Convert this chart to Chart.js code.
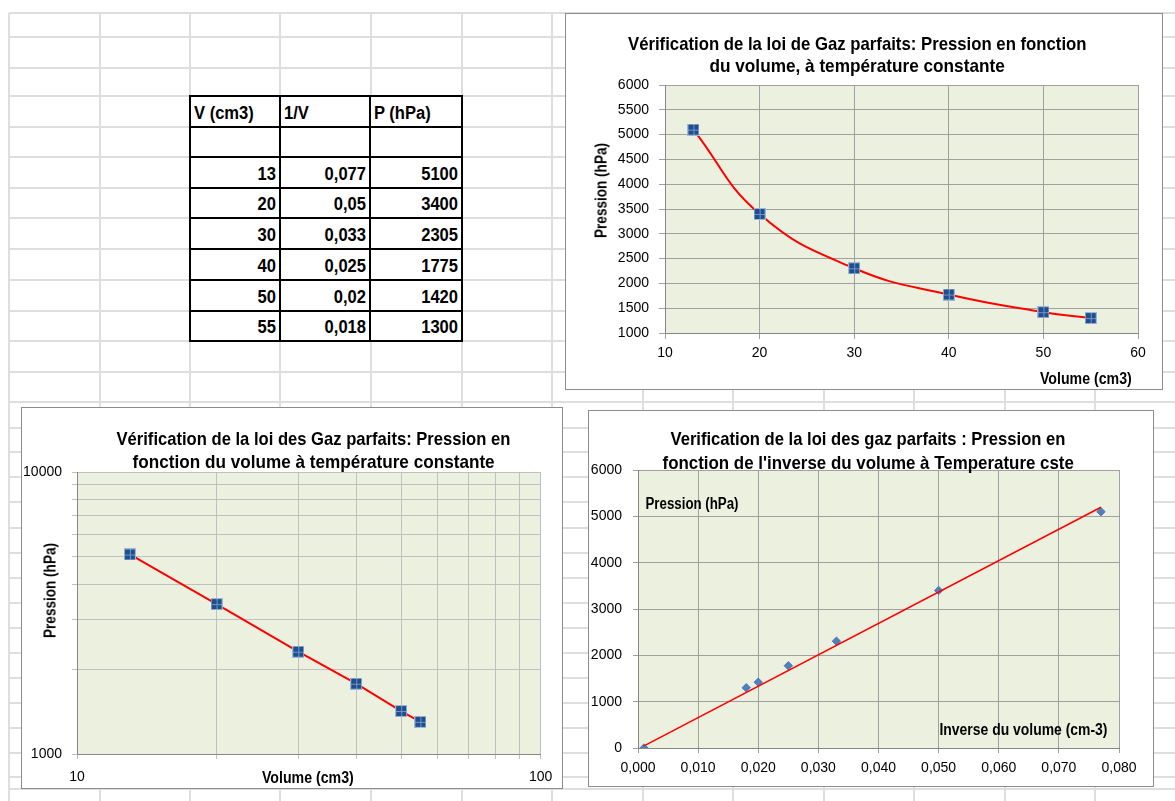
<!DOCTYPE html>
<html><head><meta charset="utf-8">
<script src="https://cdn.jsdelivr.net/npm/chart.js@4.4.1/dist/chart.umd.min.js"></script>
<style>
html,body{margin:0;padding:0;background:#fff;}
body{width:1175px;height:801px;position:relative;overflow:hidden;font-family:"Liberation Sans",Arial,sans-serif;color:#000;}
#sheet{position:absolute;left:0;top:0;width:1175px;height:801px;}
.hl{position:absolute;height:2px;background:#dedede;}
.vl{position:absolute;width:2px;background:#dedede;}
.box{position:absolute;background:#fff;border:1px solid #8c8c8c;box-sizing:border-box;}
.box canvas{position:absolute;left:0;top:0;}
.t{position:absolute;white-space:nowrap;font-weight:bold;transform-origin:50% 50%;z-index:5;}
#tbl{position:absolute;left:189px;top:95px;border-collapse:collapse;background:#fff;font-weight:bold;font-size:18px;}
#tbl td{border:2px solid #000;padding:0 3px 3px 3px;vertical-align:bottom;line-height:19px;white-space:nowrap;}
#tbl td span{display:inline-block;transform:scaleX(0.92);}
#tbl td.l span{transform-origin:0 50%;}
#tbl td.r span{transform-origin:100% 50%;}
</style></head>
<body>
<div id="sheet"></div>
<table id="tbl"></table>
<div class="box" style="left:565px;top:13px;width:598px;height:377px;"><canvas id="c1" width="596" height="375"></canvas></div>
<div class="box" style="left:21px;top:407px;width:542px;height:382px;"><canvas id="c2" width="540" height="380"></canvas></div>
<div class="box" style="left:588px;top:410px;width:566px;height:377px;"><canvas id="c3" width="564" height="375"></canvas></div>
<script>
// ---------- data ----------
const volume = [13, 20, 30, 40, 50, 55];
const inverseVolume = [0.077, 0.05, 0.033, 0.025, 0.02, 0.018];
const pressure = [5100, 3400, 2305, 1775, 1420, 1300];
const tableHeaders = ['V (cm3)', '1/V', 'P (hPa)'];
// third chart: points plotted (includes a point near the origin) and the trend line ends
const inv3X = [0.001, 0.018, 0.02, 0.025, 0.033, 0.05, 0.077];
const inv3Y = [0, 1300, 1420, 1775, 2305, 3400, 5100];
const trendX = [0.001, 0.077];
const trendY = [45, 5195];
// tick values
const lin1XTicks = [10, 20, 30, 40, 50, 60];
const lin1YTicks = [1000, 1500, 2000, 2500, 3000, 3500, 4000, 4500, 5000, 5500, 6000];
const logXTicks = [10, 20, 30, 40, 50, 60, 70, 80, 90, 100];
const logXLabels = [10, 100];
const logYTicks = [1000, 2000, 3000, 4000, 5000, 6000, 7000, 8000, 9000, 10000];
const logYLabels = [1000, 10000];
const inv3XTicks = [0, 0.01, 0.02, 0.03, 0.04, 0.05, 0.06, 0.07, 0.08];
const inv3YTicks = [0, 1000, 2000, 3000, 4000, 5000, 6000];

// ---------- spreadsheet grid ----------
const sheetCols = [9, 100, 190, 280, 371, 462, 552, 643, 733, 824, 914, 1005, 1095];
const sheetRows = [13, 37, 68, 96, 127, 157, 188, 218, 249, 280, 311, 341, 372, 402, 428, 452, 477, 502, 528, 553, 578, 603, 628, 653, 678, 703, 728, 753, 777, 789];
const sheet = document.getElementById('sheet');
sheetCols.forEach(x => { const d = document.createElement('div'); d.className = 'vl'; d.style.left = (x - 1) + 'px'; d.style.top = '13px'; d.style.height = '788px'; sheet.appendChild(d); });
sheetRows.forEach(y => { const d = document.createElement('div'); d.className = 'hl'; d.style.top = (y - 1) + 'px'; d.style.left = '9px'; d.style.width = '1166px'; sheet.appendChild(d); });

// ---------- table ----------
const tbl = document.getElementById('tbl');
const colW = [90, 90, 92];
const rowH = [31, 30, 31, 30, 31, 31, 31, 30];
function addRow(cells, cls, h) {
  const tr = document.createElement('tr'); tr.style.height = h + 'px';
  cells.forEach((c, i) => {
    const td = document.createElement('td'); td.className = cls;
    const sp = document.createElement('span'); sp.textContent = c; td.appendChild(sp);
    td.style.textAlign = cls === 'l' ? 'left' : 'right';
    td.style.width = (colW[i] - 8) + 'px'; td.style.height = (h - 5) + 'px';
    tr.appendChild(td);
  });
  tbl.appendChild(tr);
}
addRow(tableHeaders, 'l', rowH[0]);
addRow(['', '', ''], 'l', rowH[1]);
volume.forEach((v, i) => addRow([String(v), String(inverseVolume[i]).replace('.', ','), String(pressure[i])], 'r', rowH[i + 2]));

// ---------- HTML text (titles / labels) ----------
function addText(text, cx, cy, targetW, size, rotate) {
  const el = document.createElement('div'); el.className = 't'; el.textContent = text;
  el.style.fontSize = size + 'px'; el.style.lineHeight = Math.round(size * 1.2) + 'px';
  document.body.appendChild(el);
  const w = el.offsetWidth, h = el.offsetHeight;
  el.style.left = (cx - w / 2) + 'px'; el.style.top = (cy - h / 2) + 'px';
  el.style.transform = (rotate ? 'rotate(-90deg) ' : '') + 'scaleX(' + (targetW / w) + ')';
}
// chart titles
addText('Vérification de la loi de Gaz parfaits: Pression en fonction', 857, 43, 459, 19);
addText('du volume, à température constante', 857, 65, 295, 19);
addText('Vérification de la loi des Gaz parfaits: Pression en', 313, 438, 394, 19);
addText('fonction du volume à température constante', 313, 461, 362, 19);
addText('Verification de la loi des gaz parfaits : Pression en', 868, 438, 395, 19);
addText("fonction de l'inverse du volume à Temperature cste", 868, 462, 411, 19);
// axis titles
addText('Pression (hPa)', 601, 190, 95, 16, true);
addText('Volume (cm3)', 1086, 378, 92, 16);
addText('Pression (hPa)', 50, 590, 95, 16, true);
addText('Volume (cm3)', 308, 777, 92, 16);
addText('Pression (hPa)', 692, 503, 93, 16);
addText('Inverse du volume (cm-3)', 1023, 729, 168, 16);

// ---------- charts ----------
Chart.defaults.font.family = '"Liberation Sans", Arial, sans-serif';
Chart.defaults.font.size = 14;
Chart.defaults.color = '#000';

const plotBg = { id: 'plotBg', beforeDraw(chart) { const { ctx, chartArea: a } = chart; ctx.save(); ctx.fillStyle = '#ebf1de'; ctx.fillRect(a.left, a.top, a.right - a.left, a.bottom - a.top); ctx.restore(); } };

function squareMarker() {
  const c = document.createElement('canvas'); c.width = 12; c.height = 12;
  const g = c.getContext('2d');
  g.fillStyle = '#9fb6d6'; g.fillRect(0, 0, 12, 12);
  g.fillStyle = '#1f4e8c'; g.fillRect(1, 1, 10, 10);
  g.fillStyle = '#6f95c9'; g.fillRect(6, 1, 1, 10); g.fillRect(1, 6, 10, 1);
  return c;
}
const marker = squareMarker();
const pts = (xs, ys) => xs.map((x, i) => ({ x: x, y: ys[i] }));
const setTicks = arr => s => { s.ticks = arr.map(v => ({ value: v })); };
const plain = v => String(v);
const base = { responsive: false, animation: false, events: [], devicePixelRatio: 1, plugins: { legend: { display: false }, tooltip: { enabled: false }, title: { display: false } } };

new Chart(document.getElementById('c1'), {
  type: 'scatter',
  data: { datasets: [{ data: pts(volume, pressure), showLine: true, borderColor: '#ff0000', borderWidth: 2, tension: 0.45, pointStyle: marker, pointRadius: 6 }] },
  options: Object.assign({}, base, {
    layout: { padding: { left: 0, right: 24, top: 71, bottom: 0 } },
    scales: {
      x: { type: 'linear', min: 10, max: 60, afterBuildTicks: setTicks(lin1XTicks), afterFit: s => { s.height = 56; },
        grid: { color: '#a0a0a0', tickLength: 6 }, border: { color: '#868686' },
        ticks: { padding: 5.6, autoSkip: false, maxRotation: 0, callback: plain } },
      y: { type: 'linear', min: 1000, max: 6000, afterBuildTicks: setTicks(lin1YTicks), afterFit: s => { s.width = 99; },
        grid: { color: '#a0a0a0', tickLength: 6 }, border: { color: '#868686' },
        ticks: { padding: 10, autoSkip: false, callback: plain } }
    }
  }),
  plugins: [plotBg]
});

new Chart(document.getElementById('c2'), {
  type: 'scatter',
  data: { datasets: [{ data: pts(volume, pressure), showLine: true, borderColor: '#ff0000', borderWidth: 2, tension: 0, pointStyle: marker, pointRadius: 6 }] },
  options: Object.assign({}, base, {
    layout: { padding: { left: 0, right: 21, top: 64, bottom: 0 } },
    scales: {
      x: { type: 'logarithmic', min: 10, max: 100, afterBuildTicks: setTicks(logXTicks), afterFit: s => { s.height = 34; },
        grid: { color: '#c0c0c0', tickLength: 5 }, border: { color: '#868686' },
        ticks: { padding: 9.6, autoSkip: false, maxRotation: 0, callback: v => logXLabels.includes(v) ? String(v) : '' } },
      y: { type: 'logarithmic', min: 1000, max: 10000, afterBuildTicks: setTicks(logYTicks), afterFit: s => { s.width = 55; },
        grid: { color: '#c0c0c0', tickLength: 5 }, border: { color: '#868686' },
        ticks: { padding: 10, autoSkip: false, callback: v => logYLabels.includes(v) ? String(v) : '' } }
    }
  }),
  plugins: [plotBg]
});

new Chart(document.getElementById('c3'), {
  type: 'scatter',
  data: { datasets: [
    { data: pts(trendX, trendY), showLine: true, borderColor: '#ff0000', borderWidth: 1.6, pointRadius: 0 },
    { data: pts(inv3X, inv3Y), showLine: false, pointStyle: 'rectRot', pointRadius: 4.2, backgroundColor: '#4f81bd', borderColor: '#4a7ab5', borderWidth: 1 }
  ] },
  options: Object.assign({}, base, {
    layout: { padding: { left: 0, right: 34, top: 59, bottom: 0 } },
    scales: {
      x: { type: 'linear', min: 0, max: 0.08, afterBuildTicks: setTicks(inv3XTicks), afterFit: s => { s.height = 38; },
        grid: { color: '#a0a0a0', tickLength: 5 }, border: { color: '#868686' },
        ticks: { padding: 6.6, autoSkip: false, maxRotation: 0, callback: v => v.toFixed(3).replace('.', ',') } },
      y: { type: 'linear', min: 0, max: 6000, afterBuildTicks: setTicks(inv3YTicks), afterFit: s => { s.width = 49; },
        grid: { color: '#a0a0a0', tickLength: 5 }, border: { color: '#868686' },
        ticks: { padding: 11, autoSkip: false, callback: plain } }
    }
  }),
  plugins: [plotBg]
});
</script>
</body></html>
